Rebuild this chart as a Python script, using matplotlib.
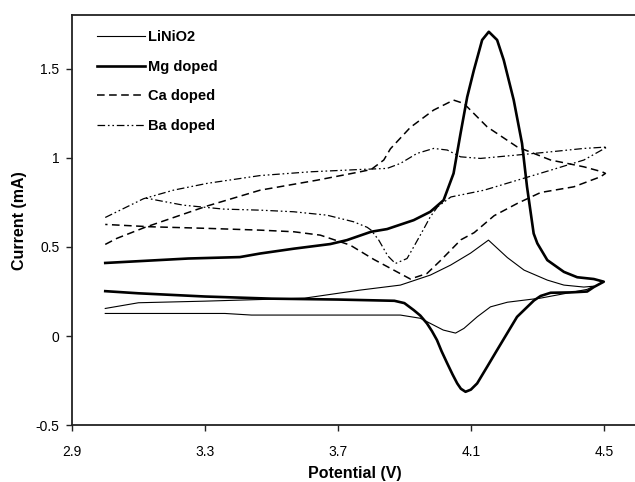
import matplotlib
matplotlib.use("Agg")
import matplotlib.pyplot as plt

plt.rcParams['font.family'] = ['Liberation Sans', 'DejaVu Sans']
plt.rcParams['lines.scale_dashes'] = False

# ---------------- data (Potential V, Current mA) ----------------
lini_v = [3.0, 3.1, 3.3, 3.5, 3.6, 3.767, 3.888, 3.978, 4.039, 4.099, 4.153,
          4.21, 4.26, 4.33, 4.38, 4.44, 4.47,
          4.45, 4.31, 4.21, 4.159, 4.119, 4.079, 4.054, 4.017, 3.948, 3.888,
          3.828, 3.6, 3.44, 3.36, 3.0]
lini_i = [0.155, 0.187, 0.196, 0.207, 0.213, 0.258, 0.286, 0.342, 0.398, 0.465, 0.538,
          0.44, 0.37, 0.314, 0.286, 0.275, 0.28,
          0.262, 0.213, 0.19, 0.164, 0.108, 0.043, 0.017, 0.034, 0.10, 0.118,
          0.118, 0.118, 0.118, 0.127, 0.127]

mg_v = [3.0, 3.1, 3.25, 3.405, 3.466, 3.567, 3.677, 3.727, 3.8, 3.848, 3.928,
        3.978, 4.018, 4.048, 4.069, 4.089, 4.109, 4.134, 4.154, 4.179, 4.199,
        4.229, 4.254, 4.269, 4.289, 4.30, 4.33, 4.38, 4.42, 4.47, 4.5,
        4.47, 4.45, 4.40, 4.34, 4.31, 4.29, 4.265, 4.239, 4.209, 4.179, 4.149,
        4.119, 4.1, 4.084, 4.07, 4.059, 4.045, 4.029, 4.012, 3.998, 3.983,
        3.968, 3.948, 3.928, 3.9, 3.87, 3.7, 3.5, 3.3, 3.1, 3.0]
mg_i = [0.41, 0.42, 0.435, 0.443, 0.463, 0.49, 0.516, 0.538, 0.585, 0.6, 0.65,
        0.697, 0.762, 0.912, 1.136, 1.34, 1.49, 1.66, 1.706, 1.66, 1.547,
        1.323, 1.08, 0.837, 0.575, 0.52, 0.426, 0.36, 0.33, 0.32, 0.305,
        0.275, 0.25, 0.245, 0.243, 0.225, 0.20, 0.155, 0.108, 0.015, -0.078, -0.172,
        -0.265, -0.3, -0.312, -0.295, -0.265, -0.215, -0.153, -0.085, -0.022, 0.028,
        0.071, 0.115, 0.146, 0.185, 0.198, 0.205, 0.21, 0.222, 0.24, 0.252]

ca_v = [3.0, 3.035, 3.12, 3.306, 3.466, 3.637, 3.767, 3.8, 3.838, 3.858, 3.918,
        3.988, 4.048, 4.079, 4.149, 4.239, 4.34, 4.44, 4.495, 4.505,
        4.49, 4.41, 4.31, 4.24, 4.17, 4.11, 4.07, 4.01, 3.968, 3.918, 3.868,
        3.808, 3.737, 3.647, 3.567, 3.466, 3.306, 3.135, 3.0]
ca_i = [0.514, 0.548, 0.61, 0.729, 0.818, 0.874, 0.921, 0.934, 0.987, 1.05, 1.17,
        1.267, 1.323, 1.304, 1.173, 1.061, 0.987, 0.949, 0.921, 0.912,
        0.893, 0.837, 0.805, 0.744, 0.675, 0.58, 0.54, 0.426, 0.351, 0.32, 0.37,
        0.43, 0.51, 0.566, 0.585, 0.594, 0.604, 0.613, 0.626]

ba_v = [3.0, 3.115, 3.205, 3.306, 3.466, 3.617, 3.767, 3.848, 3.888, 3.938,
        3.988, 4.029, 4.069, 4.129, 4.239, 4.34, 4.44, 4.51,
        4.44, 4.34, 4.24, 4.14, 4.04, 4.0, 3.978, 3.958, 3.928, 3.908, 3.873,
        3.85, 3.823, 3.8, 3.788, 3.747, 3.667, 3.567, 3.466, 3.356, 3.306,
        3.235, 3.155, 3.12]
ba_i = [0.665, 0.77, 0.818, 0.856, 0.9, 0.921, 0.934, 0.94, 0.968, 1.024,
        1.052, 1.043, 1.005, 0.996, 1.015, 1.033, 1.052, 1.06,
        0.987, 0.93, 0.874, 0.818, 0.78, 0.725, 0.669, 0.6, 0.5, 0.435, 0.407,
        0.45, 0.538, 0.594, 0.61, 0.641, 0.678, 0.697, 0.706, 0.712, 0.721,
        0.734, 0.762, 0.775]

labels = ["LiNiO2", "Mg doped", "Ca doped", "Ba doped"]
x_ticks = [2.9, 3.3, 3.7, 4.1, 4.5]
y_ticks = [-0.5, 0, 0.5, 1, 1.5]
y_tick_labels = ["-0.5", "0", "0.5", "1", "1.5"]

# ---------------- figure ----------------
fig = plt.figure(figsize=(6.35, 4.82), dpi=100)
ax = fig.add_axes([0.1134, 0.1176, 0.8898, 0.8513])

ax.plot(lini_v, lini_i, color='black', lw=0.8, label=labels[0])
ax.plot(mg_v, mg_i, color='black', lw=1.9, label=labels[1])
ax.plot(ca_v, ca_i, color='black', lw=1.1, dashes=(5.5, 3.2), label=labels[2])
ax.plot(ba_v, ba_i, color='black', lw=0.9,
        dashes=(5.5, 2.0, 1.2, 2.0, 1.2, 2.0), label=labels[3])

ax.set_xlim(2.9, 4.6)
ax.set_ylim(-0.5, 1.8)
ax.set_xticks(x_ticks)
ax.set_xticklabels([str(t) for t in x_ticks])
ax.set_yticks(y_ticks)
ax.set_yticklabels(y_tick_labels)

for s in ['left', 'bottom', 'top']:
    ax.spines[s].set_linewidth(1.3)
    ax.spines[s].set_color('#222222')
ax.spines['right'].set_visible(False)

ax.tick_params(axis='both', direction='out', length=4, width=1.0,
               labelsize=10, colors='#222222', labelcolor='black')
ax.tick_params(axis='x', pad=10)
ax.tick_params(axis='y', pad=5)

ax.set_xlabel("Potential (V)", fontsize=11.5, fontweight='bold', labelpad=5)
ax.set_ylabel("Current (mA)", fontsize=11.5, fontweight='bold', labelpad=6)

leg = ax.legend(loc='upper left', bbox_to_anchor=(0.044, 0.963), frameon=False,
                borderaxespad=0, borderpad=0, handlelength=3.3, handletextpad=0.2,
                labelspacing=1.07, prop={'weight': 'bold', 'size': 10.5})

fig.savefig("out.png", dpi=100)
